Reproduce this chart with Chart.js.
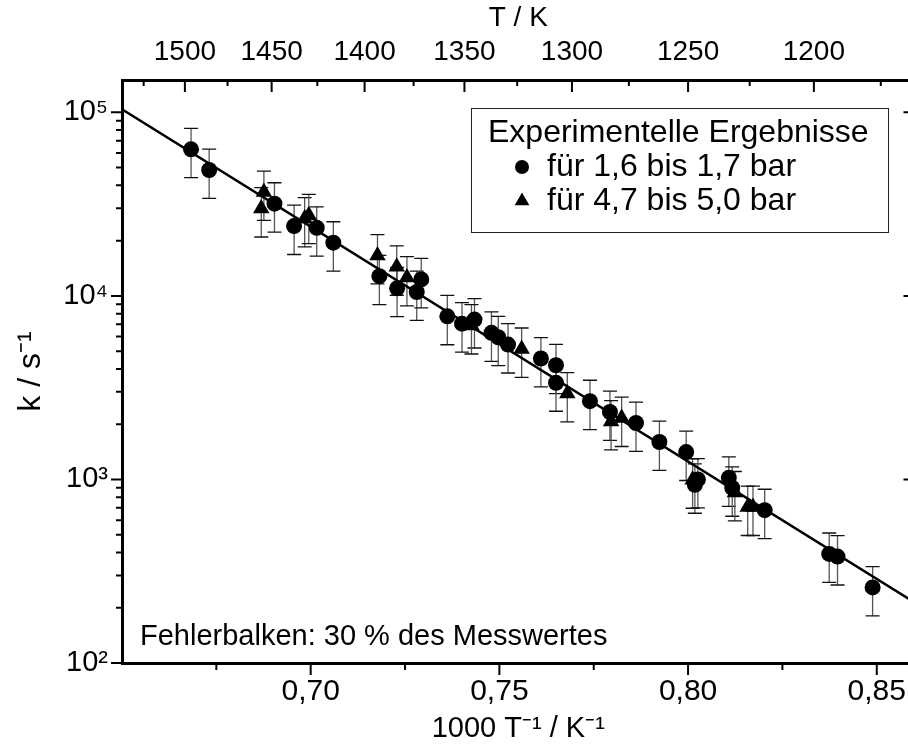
<!DOCTYPE html>
<html>
<head>
<meta charset="utf-8">
<script src="https://cdn.jsdelivr.net/npm/chart.js@4/dist/chart.umd.min.js"></script>
<style>
html, body { margin: 0; padding: 0; overflow: hidden; background: #fff; }
#wrap { width: 924px; height: 753px; }
</style>
</head>
<body>
<div id="wrap"><canvas id="chart" width="924" height="753"></canvas></div>
<script>
// Messwerte 1,6 - 1,7 bar (1000/T, k in 1/s)
var lowX = [0.6683, 0.6731, 0.6904, 0.6956, 0.7016, 0.7060, 0.7182, 0.7229, 0.7281, 0.7293,
            0.7362, 0.7401, 0.7434, 0.7479, 0.7497, 0.7523, 0.7610, 0.7650, 0.7650, 0.7740,
            0.7793, 0.7862, 0.7924, 0.7995, 0.8018, 0.8026, 0.8108, 0.8117, 0.8203, 0.8374,
            0.8396, 0.8489];
var lowK = [62900, 48500, 31800, 24000, 23500, 19500, 12800, 11000, 10500, 12300,
            7740, 7060, 7430, 6290, 5950, 5430, 4560, 4190, 3360, 2670,
            2330, 2030, 1600, 1410, 935, 1000, 1020, 900, 680, 393,
            380, 258];
// Messwerte 4,7 - 5,0 bar
var highX = [0.6869, 0.6876, 0.6984, 0.6995, 0.7177, 0.7228, 0.7255, 0.7426, 0.7559, 0.7680,
             0.7796, 0.7824, 0.8012, 0.8124, 0.8158, 0.8172];
var highK = [29900, 36800, 26400, 27500, 16600, 14400, 12600, 6890, 5140, 2940,
             2070, 2160, 995, 850, 707, 707];
// Arrhenius-Fit
var fitX = [0.65, 0.86];
var fitK = [104000, 214];

var errFrac = 0.3;  // Fehlerbalken 30 %

var xRange = [0.65, 0.86];
var yRange = [100, 150000];
var xTickValues = [0.65, 0.675, 0.70, 0.725, 0.75, 0.775, 0.80, 0.825, 0.85];
var tempTicks = [1525, 1500, 1475, 1450, 1425, 1400, 1375, 1350, 1325, 1300, 1275, 1250, 1225, 1200, 1175];
var yDecades = [100, 1000, 10000];
var yExp = {100: '10\u00B2', 1000: '10\u00B3', 10000: '10\u2074', 100000: '10\u2075'};

var legendTitle = 'Experimentelle Ergebnisse';
var note = 'Fehlerbalken: 30 % des Messwertes';

var FONT = '"Liberation Sans", Arial, sans-serif';
Chart.defaults.font.family = FONT;
Chart.defaults.color = '#000';

function pts(xs, ys) {
    return xs.map(function (x, i) { return {x: x, y: ys[i]}; });
}

var yTickValues = [];
yDecades.forEach(function (d) {
    for (var m = 1; m < 10; m++) yTickValues.push(d * m);
});
yTickValues.push(100000);

function isMajorY(v) {
    return yExp[v] !== undefined;
}

// Fehlerbalken hinter den Symbolen
var errorBars = {
    id: 'errorBars',
    beforeDatasetsDraw: function (chart) {
        var ctx = chart.ctx, ys = chart.scales.y, xs = chart.scales.x;
        ctx.save();
        chart.data.datasets.forEach(function (ds) {
            if (!ds.errorBars) return;
            ds.data.forEach(function (p) {
                var px = xs.getPixelForValue(p.x);
                var top = ys.getPixelForValue(p.y * (1 + errFrac));
                var bot = ys.getPixelForValue(p.y * (1 - errFrac));
                ctx.strokeStyle = '#555';
                ctx.lineWidth = 1.3;
                ctx.beginPath();
                ctx.moveTo(px, top); ctx.lineTo(px, bot);
                ctx.stroke();
                ctx.strokeStyle = '#111';
                ctx.beginPath();
                ctx.moveTo(px - 7, top); ctx.lineTo(px + 7, top);
                ctx.moveTo(px - 7, bot); ctx.lineTo(px + 7, bot);
                ctx.stroke();
            });
        });
        ctx.restore();
    }
};

// Teilstriche (Haupt-/Nebenstriche)
var tickMarks = {
    id: 'tickMarks',
    afterDraw: function (chart) {
        var ctx = chart.ctx, a = chart.chartArea, s = chart.scales;
        ctx.save();
        ctx.strokeStyle = '#000';
        ctx.lineWidth = 2;
        ctx.beginPath();
        s.y.ticks.forEach(function (t) {
            var p = s.y.getPixelForValue(t.value);
            var len = isMajorY(t.value) ? 11 : 6;
            ctx.moveTo(a.left - len, p); ctx.lineTo(a.left, p);
            ctx.moveTo(a.right, p); ctx.lineTo(a.right - len, p);
        });
        s.x.ticks.forEach(function (t) {
            var p = s.x.getPixelForValue(t.value);
            var len = t.label ? 12 : 7;
            if (Math.abs(t.value - xRange[0]) < 1e-6) len = 0;
            ctx.moveTo(p, a.bottom); ctx.lineTo(p, a.bottom + len);
        });
        s.xT.ticks.forEach(function (t) {
            var p = s.xT.getPixelForValue(t.value);
            var len = t.label ? 12 : 6;
            ctx.moveTo(p, a.top); ctx.lineTo(p, a.top + len);
        });
        ctx.stroke();
        // rechte Achse (liegt knapp außerhalb des Bildes)
        ctx.lineWidth = 3;
        ctx.beginPath();
        ctx.moveTo(a.right, a.top); ctx.lineTo(a.right, a.bottom);
        ctx.stroke();
        ctx.restore();
    }
};

// Legende und Hinweis im Diagramm
var legendBox = {
    id: 'legendBox',
    afterDraw: function (chart) {
        var ctx = chart.ctx, a = chart.chartArea;
        ctx.save();
        ctx.strokeStyle = '#222';
        ctx.lineWidth = 1;
        ctx.strokeRect(471.5, 108.5, 417, 124);
        ctx.fillStyle = '#000';
        ctx.font = '32px ' + FONT;
        ctx.textBaseline = 'middle';
        ctx.fillText(legendTitle, 488, 133);
        var row = 0;
        chart.data.datasets.forEach(function (ds) {
            if (!ds.errorBars) return;
            var y = 167 + row * 34;
            Chart.helpers.drawPoint(ctx, {pointStyle: ds.pointStyle, radius: ds.legendRadius, borderWidth: 0, rotation: 0}, 522, y);
            ctx.fillText(ds.label, 547, y);
            row++;
        });
        ctx.font = '29px ' + FONT;
        ctx.fillText(note, a.left + 18, 637);
        ctx.restore();
    }
};

new Chart(document.getElementById('chart'), {
    type: 'scatter',
    data: {
        datasets: [{
            label: 'für 1,6 bis 1,7 bar',
            data: pts(lowX, lowK),
            pointStyle: 'circle',
            pointRadius: 8,
            legendRadius: 7,
            backgroundColor: '#000',
            borderColor: '#000',
            borderWidth: 0,
            errorBars: true,
            order: 1
        }, {
            label: 'für 4,7 bis 5,0 bar',
            data: pts(highX, highK),
            pointStyle: 'triangle',
            pointRadius: 9.5,
            legendRadius: 8.5,
            backgroundColor: '#000',
            borderColor: '#000',
            borderWidth: 0,
            errorBars: true,
            order: 2
        }, {
            label: 'Fit',
            data: pts(fitX, fitK),
            showLine: true,
            pointRadius: 0,
            borderColor: '#000',
            borderWidth: 2.5,
            order: 3
        }]
    },
    options: {
        responsive: false,
        animation: false,
        layout: {padding: 0},
        plugins: {legend: {display: false}, tooltip: {enabled: false}},
        scales: {
            x: {
                type: 'linear',
                position: 'bottom',
                min: xRange[0],
                max: xRange[1],
                afterBuildTicks: function (s) {
                    s.ticks = xTickValues.map(function (v) { return {value: v}; });
                },
                afterFit: function (s) { s.height = 90; },
                grid: {display: false, drawTicks: false},
                border: {display: true, width: 3, color: '#000'},
                ticks: {
                    autoSkip: false,
                    maxRotation: 0,
                    padding: 11,
                    font: {size: 30},
                    callback: function (v) {
                        var k = v * 20;
                        if (Math.abs(k - Math.round(k)) < 1e-6 && v > 0.66) return v.toFixed(2).replace('.', ',');
                        return '';
                    }
                },
                title: {
                    display: true,
                    text: '1000 T\u207B\u00B9 / K\u207B\u00B9',
                    font: {size: 29},
                    padding: {top: 0, bottom: 7}
                }
            },
            xT: {
                type: 'linear',
                axis: 'x',
                position: 'top',
                min: xRange[0],
                max: xRange[1],
                afterBuildTicks: function (s) {
                    s.ticks = tempTicks.map(function (T) { return {value: 1000 / T}; });
                },
                afterFit: function (s) { s.height = 80; },
                grid: {display: false, drawTicks: false},
                border: {display: true, width: 3, color: '#000'},
                ticks: {
                    autoSkip: false,
                    maxRotation: 0,
                    padding: 11,
                    font: {size: 28},
                    callback: function (v) {
                        var T = Math.round(1000 / v);
                        return T % 50 === 0 ? String(T) : '';
                    }
                },
                title: {
                    display: true,
                    text: 'T / K',
                    font: {size: 28},
                    padding: {top: 1, bottom: 0}
                }
            },
            y: {
                type: 'logarithmic',
                position: 'left',
                min: yRange[0],
                max: yRange[1],
                afterBuildTicks: function (s) {
                    s.ticks = yTickValues.map(function (v) { return {value: v, major: isMajorY(v)}; });
                },
                afterFit: function (s) { s.width = 122; },
                grid: {display: false, drawTicks: false},
                border: {display: true, width: 3, color: '#000'},
                ticks: {
                    autoSkip: false,
                    padding: 14,
                    font: {size: 29},
                    callback: function (v) { return yExp[v] || ''; }
                },
                title: {
                    display: true,
                    text: 'k / s\u207B\u00B9',
                    font: {size: 32},
                    padding: {top: 12, bottom: 0}
                }
            }
        }
    },
    plugins: [errorBars, tickMarks, legendBox]
});
</script>
</body>
</html>
